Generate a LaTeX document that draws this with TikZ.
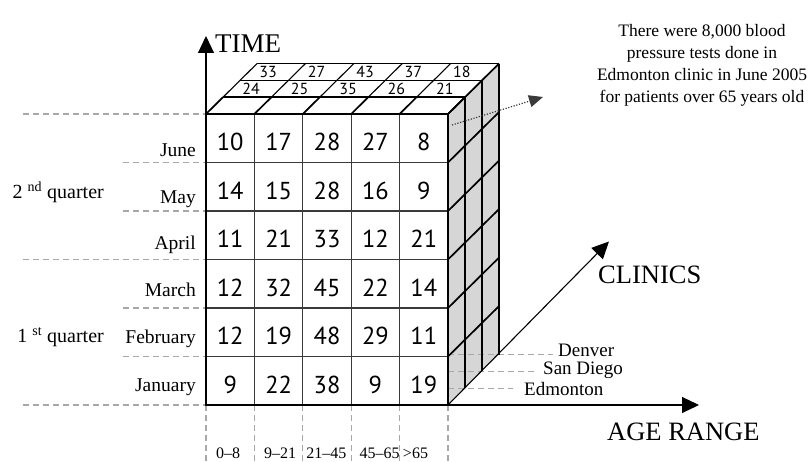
\documentclass[tikz,border=0pt]{standalone}
\usepackage{fontspec}
\setmainfont{Liberation Serif}
\newfontfamily\numfont{PT Sans}
\usetikzlibrary{arrows.meta,calc}
\definecolor{sidegray}{HTML}{D6D6D6}
\definecolor{guidegray}{HTML}{A8A8A8}
\definecolor{gridgray}{HTML}{3A3A3A}

\begin{document}
\begin{tikzpicture}[x=1pt,y=-1pt,
  guide/.style={guidegray, line width=1.1pt, dash pattern=on 6pt off 4pt},
  gridline/.style={gridgray, line width=1.3pt},
  edgeline/.style={black, line width=1.7pt},
  thinline/.style={black, line width=1.1pt},
  axis/.style={black, line width=1.1pt, -{Triangle[length=17pt,width=16pt]}},
  cellnum/.style={font=\numfont\fontsize{24.5}{24.5}\selectfont, inner sep=0pt},
  topnum/.style={font=\numfont\fontsize{16}{16}\selectfont, inner sep=0pt},
  month/.style={font=\fontsize{19.5}{20}\selectfont, anchor=base east, inner sep=0pt},
  quarter/.style={font=\fontsize{20}{20}\selectfont, anchor=base east, inner sep=0pt},
  agelbl/.style={font=\fontsize{16}{16}\selectfont, anchor=base, inner sep=0pt},
  cliniclbl/.style={font=\fontsize{19}{19}\selectfont, anchor=base west, inner sep=0pt},
  axislbl/.style={font=\fontsize{26.5}{26.5}\selectfont, anchor=base west, inner sep=0pt},
]
\useasboundingbox (0,0) rectangle (809,462);

% cube geometry: 5 columns, 6 rows, 3 layers of depth
\def\cw{48.4}
\def\rh{48.5}
\def\ddx{17}
\def\ddy{-16.8}

\coordinate (FTL) at (206,114);
\coordinate (FTR) at (448,114);
\coordinate (FBL) at (206,405);
\coordinate (FBR) at (448,405);
\coordinate (BTL) at (257,63.6);
\coordinate (BTR) at (499,63.6);
\coordinate (BBR) at (499,354.6);

% shaded side face
\fill[sidegray] (FTR) -- (BTR) -- (BBR) -- (FBR) -- cycle;

% guide lines on the left (months and quarters)
\foreach \y in {114,259.5,405} \draw[guide] (23,\y) -- (206,\y);
\foreach \y in {162.5,211,308,356.5} \draw[guide] (123,\y) -- (206,\y);
% guide lines below (age ranges)
\foreach \i in {0,...,5} \draw[guide] ({206+\cw*\i},405) -- ({206+\cw*\i},462);
% guide lines to the clinic names
\draw[guide] (448,388.2) -- (513,388.2);
\draw[guide] (448,371.4) -- (538,371.4);
\draw[guide] (448,354.6) -- (553,354.6);

% front face grid
\foreach \i in {1,...,4} \draw[gridline] ({206+\cw*\i},114) -- ({206+\cw*\i},405);
\foreach \j in {1,...,5} \draw[gridline] (206,{114+\rh*\j}) -- (448,{114+\rh*\j});

% side face grid
\foreach \k in {1,2} \draw[thinline] ({448+\ddx*\k},{114+\ddy*\k}) -- ({448+\ddx*\k},{405+\ddy*\k});
\draw[edgeline] (BTR) -- (BBR);
\foreach \j in {0,...,5} \draw[edgeline] (448,{114+\rh*\j}) -- ++({3*\ddx},{3*\ddy});

% top face grid
\draw[edgeline] ({206+\ddx},{114+\ddy}) -- ++(242,0);
\foreach \k in {2,3} \draw[thinline] ({206+\ddx*\k},{114+\ddy*\k}) -- ++(242,0);
\foreach \i in {0,...,5} {
  \draw[edgeline] ({206+\cw*\i},114) -- ++(\ddx,\ddy);
  \draw[thinline] ({206+\cw*\i+\ddx},{114+\ddy}) -- ++({2*\ddx},{2*\ddy});
}

% front face outline
\draw[black, line width=1.8pt] (FTL) -- (FTR) -- (FBR);
\draw[black, line width=2.3pt] (FTL) -- (FBL) -- (FBR);

% axes
\coordinate (timetip) at (206,36);
\coordinate (agetip) at (699,405);
\coordinate (clintip) at (609,241.5);
\draw[axis] (FBL) -- (timetip);
\draw[axis] (FBL) -- (agetip);
\draw[axis] (FBR) -- (clintip);

\node[axislbl, font=\fontsize{27}{27}\selectfont] (timelbl) at (215,52.3) {TIME};
\node[axislbl] (agelbl) at (607,440) {AGE RANGE};
\node[axislbl] (clinlbl) at (598,284) {CLINICS};

% front face values (Edmonton), June down to January
\foreach \row [count=\j from 0] in {
  {10,17,28,27,8},
  {14,15,28,16,9},
  {11,21,33,12,21},
  {12,32,45,22,14},
  {12,19,48,29,11},
  {9,22,38,9,19}} {
  \foreach \v [count=\i from 0] in \row {
    \node[cellnum] (c\j\i) at ({206+\cw*(\i+0.5)},{114+\rh*(\j+0.5)+4}) {\v};
  }
}

% top face values: San Diego (second layer) and Denver (third layer)
\foreach \v [count=\i from 0] in {24,25,35,26,21}
  \node[topnum] (sd\i) at ({206+\cw*(\i+0.5)+\ddx*1.5-4.5},{114+\ddy*1.5}) {\v};
\foreach \v [count=\i from 0] in {33,27,43,37,18}
  \node[topnum] (dn\i) at ({206+\cw*(\i+0.5)+\ddx*2.5-4.5},{114+\ddy*2.5}) {\v};

% month labels
\node[month] (mJun) at (196,156.7) {June};
\node[month] (mMay) at (196,203.5) {May};
\node[month] (mApr) at (196,250) {April};
\node[month] (mMar) at (196,296.7) {March};
\node[month] (mFeb) at (196,344) {February};
\node[month] (mJan) at (196,391.7) {January};

% quarter labels
\node[quarter] (q2) at (104,199) {2 \textsuperscript{nd} quarter};
\node[quarter] (q1) at (104,343) {1 \textsuperscript{st} quarter};

% age range labels
\node[agelbl] (a1) at (228,458.3) {0--8};
\node[agelbl] (a2) at (280,458.3) {9--21};
\node[agelbl] (a3) at (326.3,458.3) {21--45};
\node[agelbl] (a4) at (379.7,458.3) {45--65};
\node[agelbl] (a5) at (415.5,458.3) {>65};

% clinic labels
\node[cliniclbl] (cDen) at (558,357) {Denver};
\node[cliniclbl] (cSD) at (543,375) {San Diego};
\node[cliniclbl] (cEd) at (524,395.5) {Edmonton};

% annotation
\node[font=\fontsize{17.5}{21.7}\selectfont, align=center, anchor=north, inner sep=0pt]
  (note) at (702,24.6) {There were 8,000 blood\\pressure tests done in\\Edmonton clinic in June 2005\\for patients over 65 years old};
\coordinate (cellpt) at (452,125);
\coordinate (notetip) at (543,97);
\draw[gridgray, line width=1.2pt, dash pattern=on 1.2pt off 1.6pt,
  -{Triangle[length=14pt,width=12pt]}] (cellpt) -- (notetip);
\end{tikzpicture}
\end{document}
